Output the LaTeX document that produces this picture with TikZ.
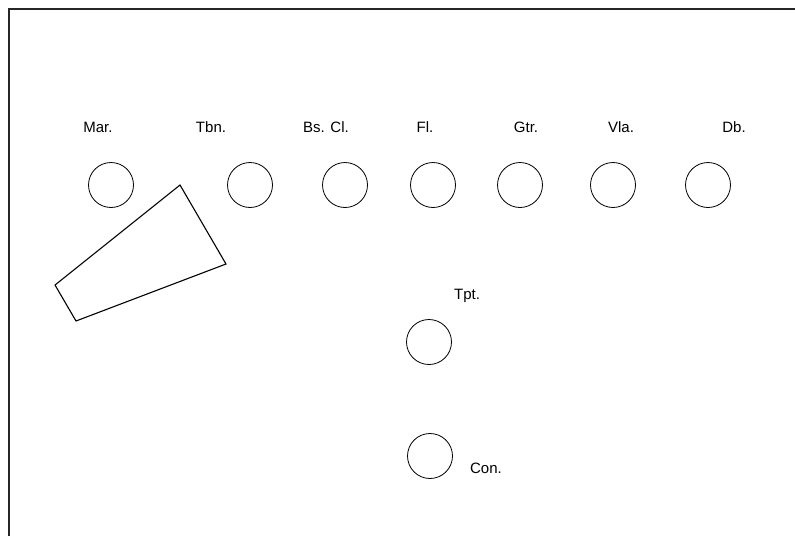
\documentclass[tikz,border=0pt]{standalone}
\usepackage{fontspec}
\setmainfont{Liberation Sans}
\begin{document}
\begin{tikzpicture}[x=1pt,y=-1pt,
  seat/.style={circle,draw,line width=0.8pt,minimum size=45pt,inner sep=0pt},
  lbl/.style={font=\fontsize{15}{18}\selectfont,inner sep=0pt}]
\useasboundingbox (0,0) rectangle (795,536);
\draw[line width=1.5pt,black!85] (9,536) -- (9,9) -- (795,9);
\node[seat] (mar) at (111,185) {};
\node[seat] (tbn) at (250,185) {};
\node[seat] (bcl) at (345,185) {};
\node[seat] (fl) at (433,185) {};
\node[seat] (gtr) at (520,185) {};
\node[seat] (vla) at (613,185) {};
\node[seat] (db) at (708,185) {};
\node[seat] (tpt) at (429,342) {};
\node[seat] (con) at (430,456) {};
\node[lbl] (lmar) at (98,127) {Mar.};
\node[lbl] (ltbn) at (211,127) {Tbn.};
\node[lbl] (lbcl) at (326,127) {Bs. Cl.};
\node[lbl] (lfl) at (425,127) {Fl.};
\node[lbl] (lgtr) at (526,127) {Gtr.};
\node[lbl] (lvla) at (621,127) {Vla.};
\node[lbl] (ldb) at (734,127) {Db.};
\node[lbl] (ltpt) at (467,296) {Tpt.};
\node[lbl] (lcon) at (486,468) {Con.};
\draw[line width=1.1pt] (180,185) -- (226,264) -- (76,321) -- (55,285) -- cycle;
\end{tikzpicture}
\end{document}
